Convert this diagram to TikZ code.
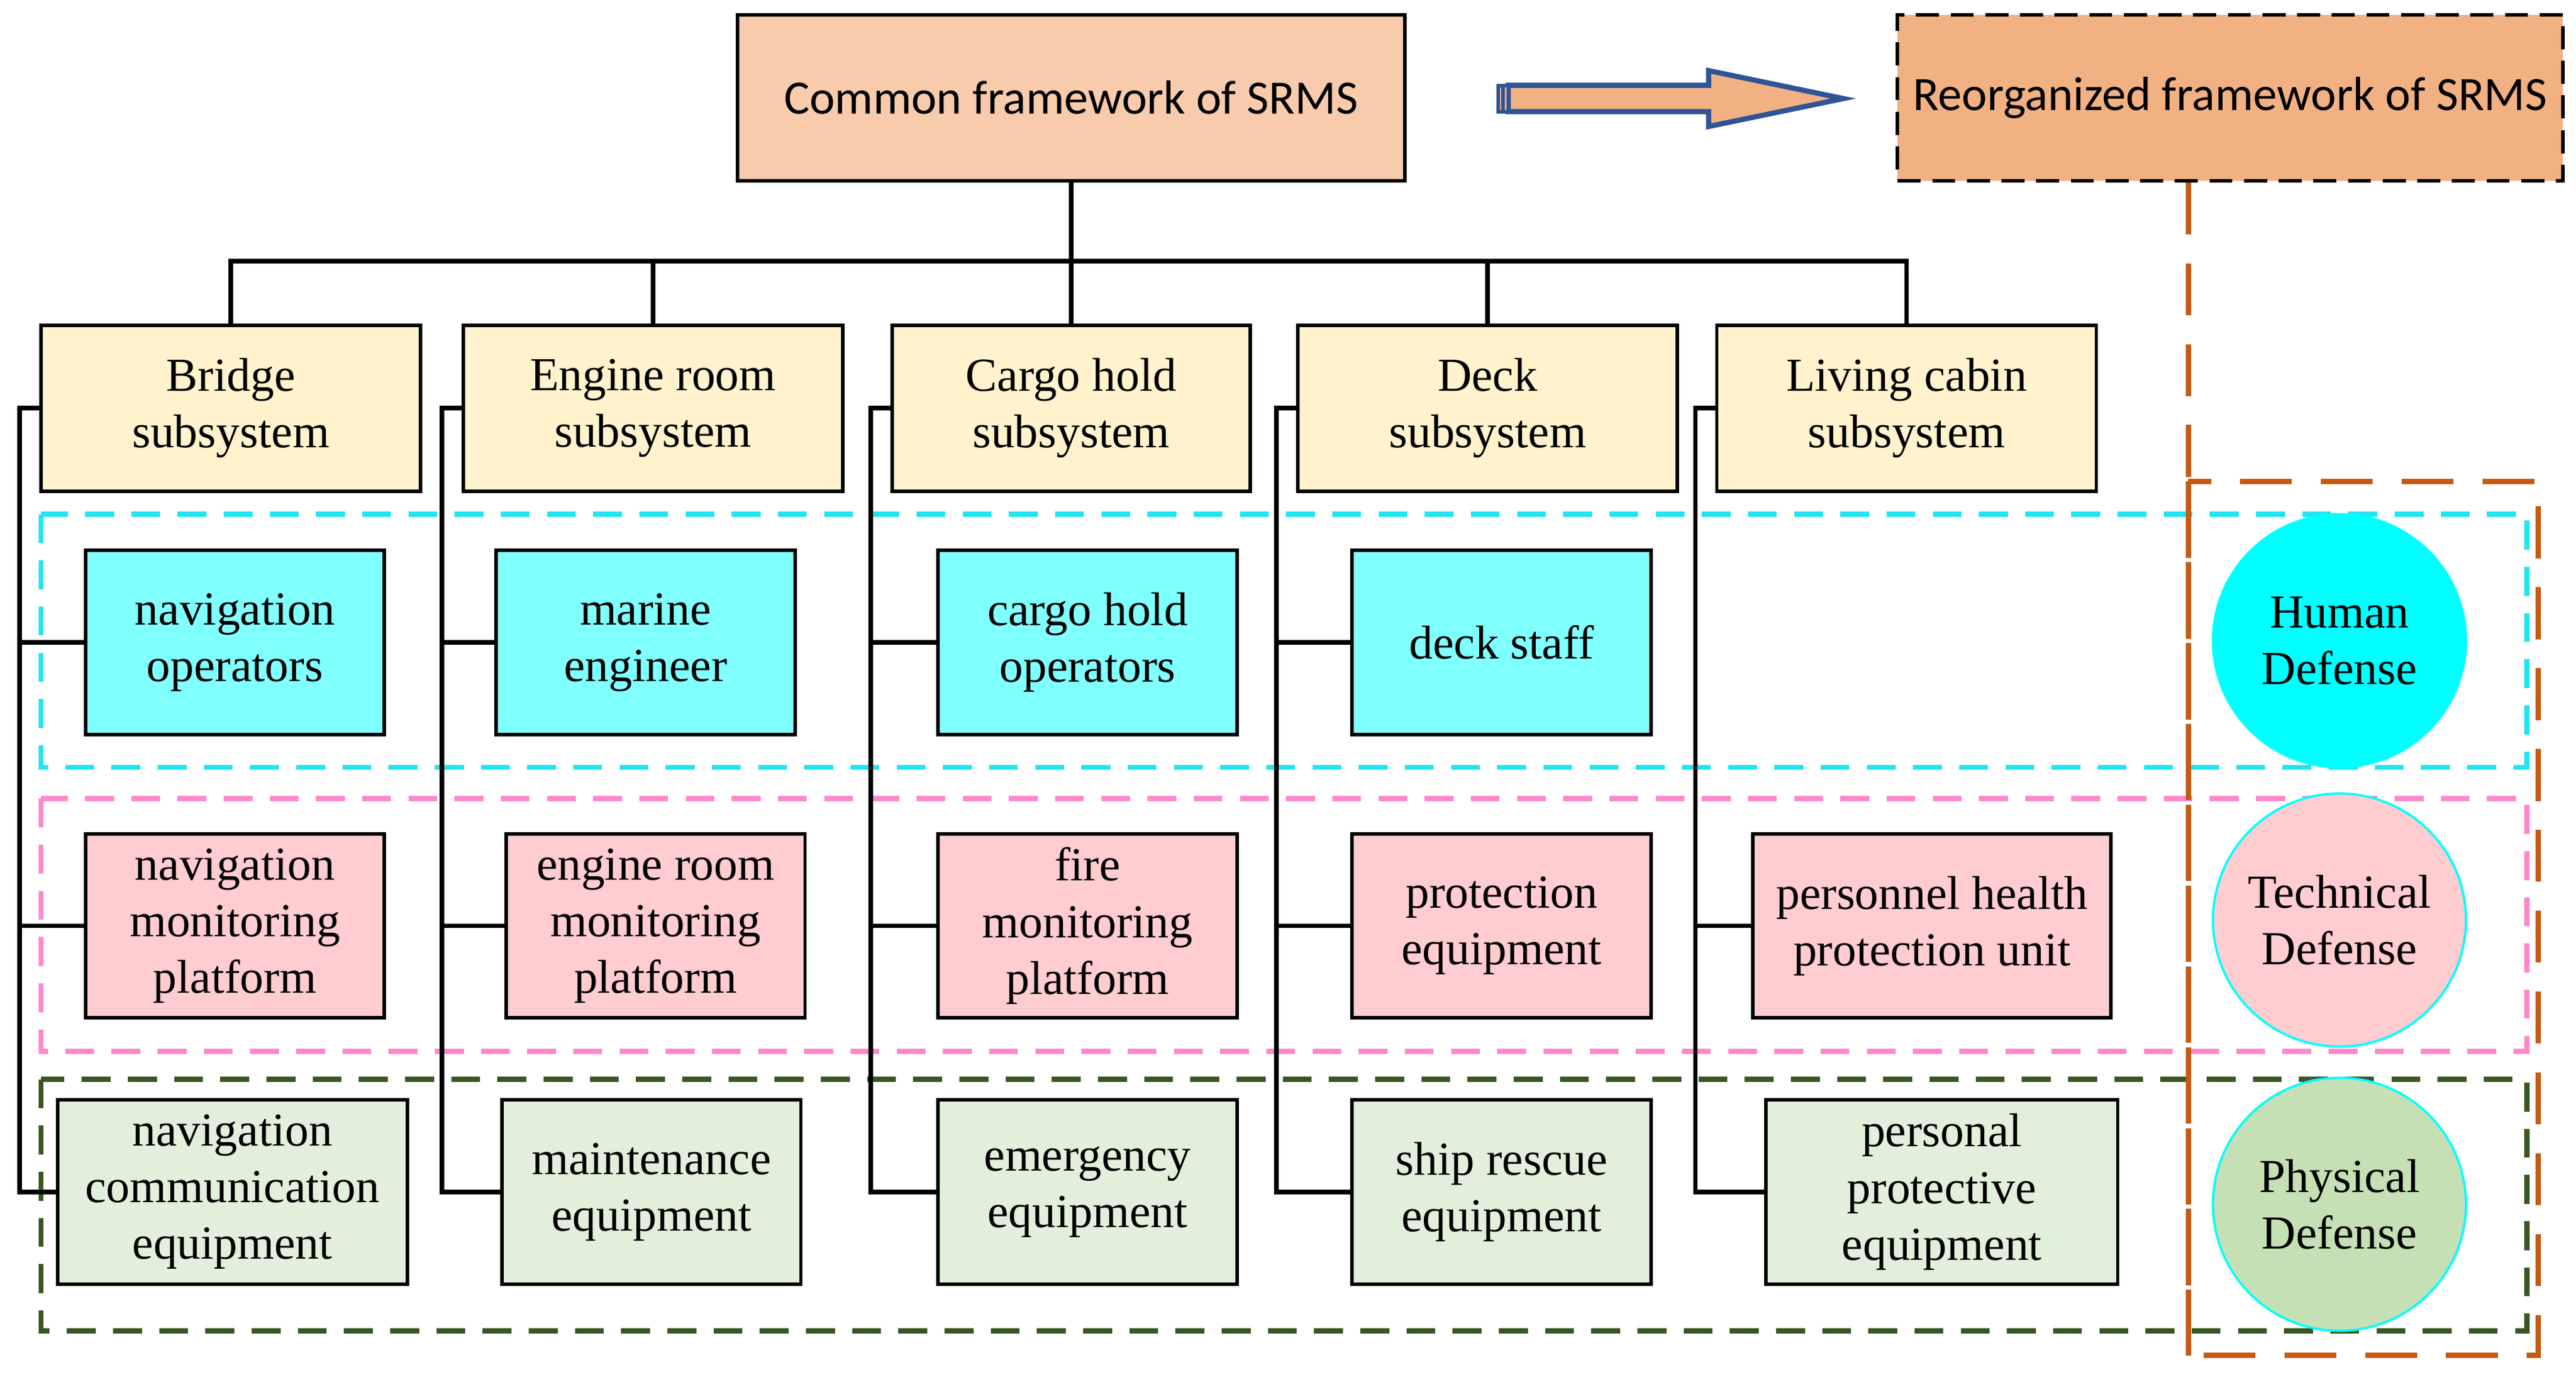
\documentclass[tikz,border=0pt]{standalone}
\usepackage{fontspec}
\setmainfont{Liberation Serif}
\newfontfamily\calfont{Carlito}
\usetikzlibrary{positioning,calc}
\definecolor{topfill}{HTML}{F7CBAC}
\definecolor{reofill}{HTML}{F2B183}
\definecolor{subfill}{HTML}{FFF2CC}
\definecolor{humfill}{HTML}{80FFFF}
\definecolor{tecfill}{HTML}{FFCCD0}
\definecolor{phyfill}{HTML}{E2EFDA}
\definecolor{physfill}{HTML}{C5E0B4}
\definecolor{aqua}{HTML}{00FFFF}
\definecolor{humline}{HTML}{22E5F0}
\definecolor{tecline}{HTML}{FF88CC}
\definecolor{phyline}{HTML}{385723}
\definecolor{orgline}{HTML}{C55A11}
\definecolor{arrline}{HTML}{2F5597}
\tikzset{
  box/.style={draw, line width=0.6pt, align=center, inner sep=1pt, font=\fontsize{8.2}{9.8}\selectfont},
  sub/.style={box, fill=subfill, minimum width=2.31cm, minimum height=1.01cm},
  item/.style={box, minimum width=1.82cm, minimum height=1.12cm},
  hum/.style={item, fill=humfill},
  tec/.style={item, fill=tecfill},
  phy/.style={item, fill=phyfill},
  link/.style={line width=0.8pt},
  group/.style={line width=0.9pt, dash pattern=on 5pt off 3pt},
  defense/.style={circle, draw=aqua, minimum size=1.54cm, inner sep=0pt, align=center, font=\fontsize{8.2}{9.8}\selectfont}
}
\begin{document}
\begin{tikzpicture}[y=-1cm]
\useasboundingbox (0,0) rectangle (15.68,8.38);

% Dashed groups
\draw[group, humline] (0.25,3.13) rectangle (15.38,4.67);
\draw[group, tecline] (0.25,4.86) rectangle (15.38,6.40);
\draw[group, phyline] (0.25,6.57) rectangle (15.38,8.10);

% Top boxes
\node[box, fill=topfill, minimum width=4.06cm, minimum height=1.01cm, font=\calfont\fontsize{8.3}{10}\selectfont] (common) at (6.52,0.595) {Common framework of SRMS};
\node[box, fill=reofill, dash pattern=on 4pt off 2pt, minimum width=4.05cm, minimum height=1.01cm, font=\calfont\fontsize{8.3}{10}\selectfont] (reorg) at (13.575,0.595) {Reorganized framework of SRMS};
\draw[arrline, line width=0.9pt, fill=reofill] (9.18,0.52) -- (10.40,0.52) -- (10.40,0.43) -- (11.22,0.60) -- (10.40,0.77) -- (10.40,0.68) -- (9.18,0.68) -- cycle;
\draw[arrline, line width=0.6pt, fill=reofill] (9.12,0.52) rectangle (9.15,0.68);
\draw[arrline, line width=0.6pt, fill=reofill] (9.15,0.52) rectangle (9.18,0.68);

% Orange frame
\draw[orgline, line width=0.9pt, dash pattern=on 9pt off 5pt] (reorg.south -| 13.32,0) -- (13.32,8.25);
\draw[orgline, line width=0.9pt, dash pattern=on 9pt off 5pt] (13.32,2.93) rectangle (15.45,8.25);

% Subsystems
\node[sub] (bridge) at (1.405,2.485) {Bridge\\subsystem};
\node[sub] (engine) at (3.975,2.485) {Engine room\\subsystem};
\node[sub, minimum width=2.18cm] (cargo) at (6.52,2.485) {Cargo hold\\subsystem};
\node[sub] (deck) at (9.055,2.485) {Deck\\subsystem};
\node[sub] (living) at (11.605,2.485) {Living cabin\\subsystem};
\foreach \s in {bridge,engine,cargo,deck,living}
  \draw[link] (common.south) -- ++(0,0.48) -| (\s.north);

% Human defense row
\node[hum] (navops) at (1.43,3.91) {navigation\\operators};
\node[hum] (marine) at (3.93,3.91) {marine\\engineer};
\node[hum] (cargoops) at (6.62,3.91) {cargo hold\\operators};
\node[hum] (staff) at (9.14,3.91) {deck staff};

% Technical defense row
\node[tec] (navmon) at (1.43,5.635) {navigation\\monitoring\\platform};
\node[tec] (engmon) at (3.99,5.635) {engine room\\monitoring\\platform};
\node[tec] (firemon) at (6.62,5.635) {fire\\monitoring\\platform};
\node[tec] (protect) at (9.14,5.635) {protection\\equipment};
\node[tec, minimum width=2.18cm] (health) at (11.76,5.635) {personnel health\\protection unit};

% Physical defense row
\node[phy, minimum width=2.13cm] (navcomm) at (1.415,7.255) {navigation\\communication\\equipment};
\node[phy] (maint) at (3.965,7.255) {maintenance\\equipment};
\node[phy] (emerg) at (6.62,7.255) {emergency\\equipment};
\node[phy] (rescue) at (9.14,7.255) {ship rescue\\equipment};
\node[phy, minimum width=2.14cm] (personal) at (11.82,7.255) {personal\\protective\\equipment};

% Branches
\foreach \s/\a/\b/\c in {bridge/navops/navmon/navcomm, engine/marine/engmon/maint, cargo/cargoops/firemon/emerg, deck/staff/protect/rescue} {
  \draw[link] (\s.west) -- ++(-0.12,0) coordinate (sp) |- (\c.west);
  \draw[link] (sp) |- (\a.west);
  \draw[link] (sp) |- (\b.west);
}
\draw[link] (living.west) -- ++(-0.12,0) coordinate (sp) |- (personal.west);
\draw[link] (sp) |- (health.west);

% Defense circles
\node[defense, fill=aqua] (human) at (14.24,3.90) {Human\\Defense};
\node[defense, fill=tecfill] (technical) at (14.24,5.60) {Technical\\Defense};
\node[defense, fill=physfill] (physical) at (14.24,7.33) {Physical\\Defense};
\end{tikzpicture}
\end{document}
